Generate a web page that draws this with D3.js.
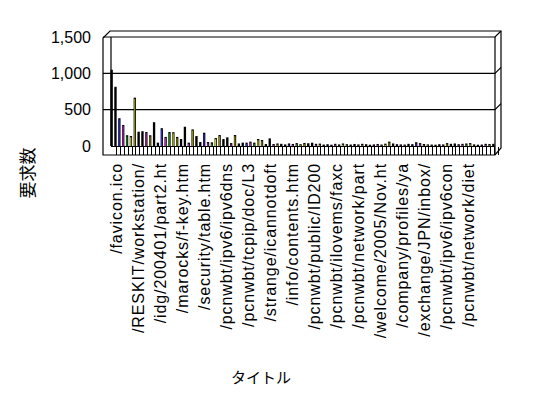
<!DOCTYPE html>
<html>
<head>
<meta charset="utf-8">
<script src="https://cdn.jsdelivr.net/npm/d3@7"></script>
<style>
  body { margin: 0; background: #fff; }
  text { font-family: "Liberation Sans", Arial, sans-serif; fill: #000; }
  .cjk { font-family: "Noto Sans CJK JP", sans-serif; }
</style>
</head>
<body>
<div id="chart"></div>
<script>
// visible category labels (every few titles are printed on the axis)
const tickLabels = [
  "/favicon.ico", "/RESKIT/workstation/", "/idg/200401/part2.ht", "/marocks/f-key.htm",
  "/security/table.htm", "/pcnwbt/ipv6/ipv6dns", "/pcnwbt/tcpip/doc/L3", "/strange/icannotdoft",
  "/info/contents.htm", "/pcnwbt/public/ID200", "/pcnwbt/ilovems/faxc", "/pcnwbt/network/part",
  "/welcome/2005/Nov.ht", "/company/profiles/ya", "/exchange/JPN/inbox/", "/pcnwbt/ipv6/ipv6con",
  "/pcnwbt/network/diet"
];

// request counts per title
const requests = [
  1050, 815, 382, 290, 148, 137, 665, 197, 204, 192,
  148, 327, 46, 245, 125, 192, 190, 125, 96, 265,
  46, 229, 137, 55, 183, 55, 50, 110, 151, 96,
  119, 40, 151, 35, 46, 46, 60, 46, 96, 82,
  27, 105, 27, 35, 30, 22, 35, 28, 40, 25,
  42, 38, 45, 30, 33, 20, 25, 18, 30, 22,
  35, 25, 20, 28, 22, 30, 25, 18, 22, 28,
  20, 32, 60, 35, 25, 22, 20, 30, 25, 52,
  40, 28, 22, 20, 18, 25, 22, 40, 30, 35,
  25, 30, 35, 40, 22, 18, 20, 30, 28, 30
];

const yTicks = [0, 500, 1000, 1500];

const barPalette = ["#000000", "#000000", "#2b2bc8", "#c020c0", "#208a20", "#c8c830",
  "#8c8c00", "#000000", "#000000", "#b020b0", "#8c8c00"];

const width = 548, height = 398;
const frontL = 103, backR = 501, wallL = 111, wallR = 495;
const floorY = 155, depth = 7;

const svg = d3.select("#chart").append("svg")
  .attr("width", width).attr("height", height);

const y = d3.scaleLinear().domain([0, 1500]).range([146, 37]);

const x = d3.scaleBand()
  .domain(d3.range(requests.length))
  .range([110.5, 494.5])
  .paddingInner(0.4);

// labels sit on the front plane of the 3-D box
const xFront = d3.scalePoint().domain(tickLabels).range([116, 468]);

const color = d3.scaleOrdinal().domain(d3.range(requests.length)).range(barPalette);

// box outline
svg.append("path")
  .attr("d", `M${frontL},${floorY}V${y(1500) + 1}L${frontL + depth},${y(1500) - 6}H${backR}V${floorY - depth}L${wallR},${floorY}Z`)
  .attr("fill", "#fff").attr("stroke", "#000").attr("stroke-width", 1.2);

// grid lines with the small return at the right edge
const grid = svg.append("g").attr("stroke", "#000").attr("stroke-width", 1.2).attr("fill", "none");
yTicks.filter(d => d > 0).forEach(v => {
  grid.append("path").attr("d", `M${frontL},${y(v)}H${wallR}L${backR},${y(v) - 6}`);
});
grid.append("line").attr("x1", wallR).attr("x2", wallR).attr("y1", y(1500)).attr("y2", floorY);
grid.append("line").attr("x1", wallL).attr("x2", wallL).attr("y1", y(1500)).attr("y2", y(0));
grid.append("line").attr("x1", wallL).attr("x2", wallR).attr("y1", y(0) + 0.5).attr("y2", y(0) + 0.5);

// category ticks on the floor edge
svg.append("g").attr("stroke", "#000").attr("stroke-width", 1)
  .selectAll("line").data(requests).join("line")
  .attr("x1", (d, i) => Math.round(x(i) + x.step() + 1.8) + 0.5)
  .attr("x2", (d, i) => Math.round(x(i) + x.step() + 1.8) + 0.5)
  .attr("y1", y(0) + 1).attr("y2", floorY);

// bars: dark column with a thin coloured face
const bars = svg.append("g");
bars.selectAll("rect.body").data(requests).join("rect")
  .attr("class", "body")
  .attr("x", (d, i) => x(i))
  .attr("y", d => y(d))
  .attr("width", x.bandwidth())
  .attr("height", d => y(0) - y(d))
  .attr("fill", "#000");
bars.selectAll("rect.face").data(requests).join("rect")
  .attr("class", "face")
  .attr("x", (d, i) => x(i) + 0.4)
  .attr("y", d => y(d) + 1.2)
  .attr("width", x.bandwidth() * 0.5)
  .attr("height", d => Math.max(0, y(0) - y(d) - 1.2))
  .attr("fill", (d, i) => color(i));

// y axis labels
svg.append("g").selectAll("text").data(yTicks).join("text")
  .attr("x", 91).attr("y", d => y(d))
  .attr("text-anchor", "end").attr("dominant-baseline", "central")
  .attr("font-size", 16)
  .text(d3.format(","));

// x axis labels
svg.append("g").selectAll("text").data(tickLabels).join("text")
  .attr("transform", d => `translate(${xFront(d) + 5.5},163) rotate(-90)`)
  .attr("text-anchor", "end")
  .attr("font-size", 16)
  .attr("letter-spacing", 0.9)
  .text(d => d);

// axis titles
svg.append("text").attr("class", "cjk")
  .attr("transform", "translate(34,173) rotate(-90)")
  .attr("text-anchor", "middle").attr("font-size", 17)
  .text("要求数");

svg.append("text").attr("class", "cjk")
  .attr("x", 261).attr("y", 383)
  .attr("text-anchor", "middle").attr("font-size", 15)
  .text("タイトル");
</script>
</body>
</html>
